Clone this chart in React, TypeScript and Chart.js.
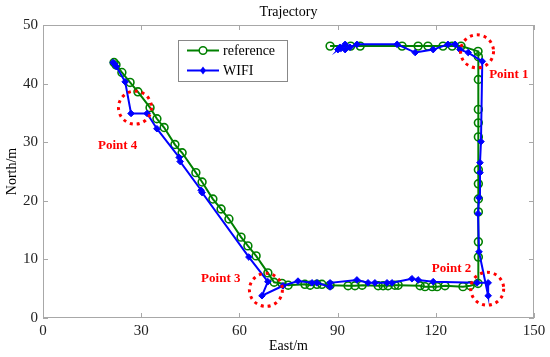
import React, { useEffect, useRef } from "react";
import { Chart, registerables } from "chart.js";

Chart.register(...registerables);

const FONT = "'Liberation Serif', 'Times New Roman', serif";

// Reference trajectory (East, North) in metres
const refX = [21.7, 22.3, 24.1, 26.6, 29.0, 32.7, 34.8, 37.0, 40.3, 42.5, 46.7, 48.6, 51.9, 54.4, 56.8, 60.5, 62.6, 65.1, 68.7, 70.6,
  73.0, 74.9, 80.0, 81.6, 83.7, 85.2, 87.7, 93.2, 95.3, 97.5, 102.4, 103.9, 105.4, 107.5, 108.5, 115.2, 116.7, 118.9, 120.4, 122.8, 128.3, 130.5, 132.9,
  133.0, 133.0, 133.0, 133.0, 133.0, 133.0, 133.0, 133.0, 133.0, 133.0, 133.0,
  132.9, 127.7, 125.0, 122.2, 117.6, 114.6, 109.7, 96.9, 94.0, 87.7];
const refY = [43.6, 43.2, 41.9, 40.2, 38.6, 35.9, 34.0, 32.5, 29.6, 28.2, 24.8, 23.2, 20.3, 18.6, 16.9, 13.8, 12.3, 10.6, 7.7, 6.1,
  5.9, 5.6, 5.75, 5.6, 5.75, 5.75, 5.6, 5.5, 5.5, 5.6, 5.5, 5.5, 5.5, 5.6, 5.6, 5.5, 5.35, 5.35, 5.35, 5.5, 5.35, 5.5, 5.9,
  10.4, 13.0, 18.1, 20.3, 22.9, 25.3, 30.9, 33.3, 35.6, 40.7, 44.6,
  45.5, 46.4, 46.4, 46.4, 46.4, 46.4, 46.4, 46.4, 46.4, 46.4];

// WIFI estimated trajectory
const wifiX = [21.4, 21.9, 22.4, 25.1, 26.9, 31.8, 34.8, 41.6, 41.9, 48.3, 48.6, 62.9, 68.7, 66.9, 73.3, 77.9, 82.2, 83.7, 87.7, 87.7,
  95.9, 99.3, 101.4, 105.1, 106.6, 112.7, 114.6, 119.2, 132.6, 136.0, 136.0,
  133.2, 132.9, 133.2, 133.5, 133.5, 133.8, 134.2,
  129.9, 127.4, 125.9, 123.7, 119.2, 113.7, 108.2, 95.9, 93.8, 92.3, 90.7, 90.1, 92.3, 91.0];
const wifiY = [43.6, 43.3, 42.9, 40.3, 34.9, 34.9, 32.3, 27.4, 26.7, 21.8, 21.4, 10.4, 6.2, 3.8, 5.5, 6.3, 6.0, 6.0, 5.3, 6.0,
  6.5, 6.0, 6.0, 6.0, 6.0, 6.7, 6.5, 6.2, 6.0, 6.0, 3.8,
  11.3, 17.8, 20.5, 24.8, 26.5, 30.1, 43.8,
  45.3, 45.8, 46.7, 46.7, 45.8, 45.3, 46.7, 46.7, 46.2, 45.8, 46.2, 45.8, 46.7, 46.0];

// Highlighted anomaly points: circle centres and label anchors (data coords)
const pointNames = ["Point 1", "Point 2", "Point 3", "Point 4"];
const circleX = [132.6, 135.7, 68.1, 28.1];
const circleY = [45.5, 5.0, 4.8, 35.9];
const labelX = [136.3, 118.8, 48.3, 16.8];
const labelY = [41.5, 8.5, 6.7, 29.4];

const xTicks = [0, 30, 60, 90, 120, 150];
const yTicks = [0, 10, 20, 30, 40, 50];

const seriesNames = ["reference", "WIFI"];
const GREEN = "#008000";
const BLUE = "#0000ff";

const toPts = (xs: number[], ys: number[]) => xs.map((x, i) => ({ x, y: ys[i] }));

const framePlugin = {
  id: "frame",
  beforeDatasetsDraw(chart: any) {
    const { ctx, chartArea: a, scales } = chart;
    ctx.save();
    ctx.strokeStyle = "#a8a8a8";
    ctx.lineWidth = 1;
    ctx.strokeRect(a.left + 0.5, a.top + 0.5, a.right - a.left - 1, a.bottom - a.top - 1);
    const tl = 5;
    ctx.beginPath();
    xTicks.forEach((v) => {
      const px = Math.round(scales.x.getPixelForValue(v)) + 0.5;
      ctx.moveTo(px, a.bottom);
      ctx.lineTo(px, a.bottom - tl);
      ctx.moveTo(px, a.top);
      ctx.lineTo(px, a.top + tl);
    });
    yTicks.forEach((v) => {
      const py = Math.round(scales.y.getPixelForValue(v)) + 0.5;
      ctx.moveTo(a.left, py);
      ctx.lineTo(a.left + tl, py);
      ctx.moveTo(a.right, py);
      ctx.lineTo(a.right - tl, py);
    });
    ctx.stroke();
    ctx.restore();
  },
  afterDatasetsDraw(chart: any) {
    const { ctx, chartArea: a, scales } = chart;
    ctx.save();
    // red dotted circles
    ctx.strokeStyle = "#ff0000";
    ctx.lineWidth = 3;
    ctx.setLineDash([3, 4]);
    circleX.forEach((cx, i) => {
      const px = scales.x.getPixelForValue(cx);
      const py = scales.y.getPixelForValue(circleY[i]);
      ctx.beginPath();
      ctx.arc(px, py, 16.5, 0, Math.PI * 2);
      ctx.stroke();
    });
    ctx.setLineDash([]);
    ctx.fillStyle = "#ff0000";
    ctx.font = `bold 13px ${FONT}`;
    ctx.textAlign = "left";
    ctx.textBaseline = "middle";
    pointNames.forEach((n, i) => {
      ctx.fillText(n, scales.x.getPixelForValue(labelX[i]), scales.y.getPixelForValue(labelY[i]));
    });

    // legend box
    const lx = a.left + 135;
    const ly = a.top + 15;
    const lw = 109;
    const lh = 41;
    ctx.fillStyle = "#ffffff";
    ctx.fillRect(lx, ly, lw, lh);
    ctx.strokeStyle = "#888888";
    ctx.lineWidth = 1;
    ctx.strokeRect(lx + 0.5, ly + 0.5, lw, lh);
    const colors = [GREEN, BLUE];
    seriesNames.forEach((n, i) => {
      const yy = ly + 10.5 + i * 20;
      ctx.strokeStyle = colors[i];
      ctx.lineWidth = 2;
      ctx.beginPath();
      ctx.moveTo(lx + 9, yy);
      ctx.lineTo(lx + 41, yy);
      ctx.stroke();
      const mx = lx + 25;
      if (i === 0) {
        ctx.lineWidth = 1.5;
        ctx.fillStyle = "#ffffff";
        ctx.beginPath();
        ctx.arc(mx, yy, 3.8, 0, Math.PI * 2);
        ctx.fill();
        ctx.stroke();
      } else {
        ctx.fillStyle = BLUE;
        ctx.beginPath();
        ctx.moveTo(mx, yy - 4);
        ctx.lineTo(mx + 3, yy);
        ctx.lineTo(mx, yy + 4);
        ctx.lineTo(mx - 3, yy);
        ctx.closePath();
        ctx.fill();
      }
      ctx.fillStyle = "#000000";
      ctx.font = `14px ${FONT}`;
      ctx.textAlign = "left";
      ctx.textBaseline = "middle";
      ctx.fillText(n, lx + 45, yy + 0.5);
    });

    // title & axis titles
    ctx.fillStyle = "#000000";
    ctx.font = `14px ${FONT}`;
    ctx.textAlign = "center";
    ctx.textBaseline = "middle";
    const cx = (a.left + a.right) / 2;
    ctx.fillText("Trajectory", cx, 12);
    ctx.fillText("East/m", cx, 346);
    ctx.save();
    ctx.translate(12, (a.top + a.bottom) / 2);
    ctx.rotate(-Math.PI / 2);
    ctx.fillText("North/m", 0, 0);
    ctx.restore();
    ctx.restore();
  },
};

export default function App() {
  const ref = useRef<HTMLCanvasElement | null>(null);
  useEffect(() => {
    if (!ref.current) return;
    const chart = new Chart(ref.current, {
      type: "line",
      data: {
        datasets: [
          {
            label: seriesNames[0],
            data: toPts(refX, refY),
            borderColor: GREEN,
            borderWidth: 2,
            pointStyle: "circle",
            pointRadius: 3.9,
            pointBorderWidth: 1.6,
            pointBorderColor: GREEN,
            pointBackgroundColor: "rgba(255,255,255,0)",
            tension: 0,
            order: 2,
          },
          {
            label: seriesNames[1],
            data: toPts(wifiX, wifiY),
            borderColor: BLUE,
            borderWidth: 2,
            pointStyle: "rectRot",
            pointRadius: 3.3,
            pointBorderWidth: 1,
            pointBorderColor: BLUE,
            pointBackgroundColor: BLUE,
            tension: 0,
            order: 1,
          },
        ],
      },
      options: {
        animation: false,
        responsive: false,
        layout: { padding: { top: 25, right: 16, left: 0, bottom: 0 } },
        plugins: { legend: { display: false }, title: { display: false }, tooltip: { enabled: false } },
        scales: {
          x: {
            type: "linear",
            min: 0,
            max: 150,
            afterFit: (s: any) => {
              s.height = 39;
            },
            afterBuildTicks: (s: any) => {
              s.ticks = xTicks.map((v) => ({ value: v }));
            },
            grid: { display: false, drawTicks: false },
            border: { display: false },
            ticks: { color: "#222", font: { family: FONT, size: 15 }, padding: 4, maxRotation: 0 },
          },
          y: {
            type: "linear",
            min: 0,
            max: 50,
            afterFit: (s: any) => {
              s.width = 43;
            },
            afterBuildTicks: (s: any) => {
              s.ticks = yTicks.map((v) => ({ value: v }));
            },
            grid: { display: false, drawTicks: false },
            border: { display: false },
            ticks: { color: "#222", font: { family: FONT, size: 15 }, padding: 5 },
          },
        },
      },
      plugins: [framePlugin],
    });
    return () => chart.destroy();
  }, []);
  return (
    <div style={{ position: "fixed", left: 0, top: 0, width: 550, height: 357, background: "#fff" }}>
      <canvas ref={ref} width={550} height={357} />
    </div>
  );
}
